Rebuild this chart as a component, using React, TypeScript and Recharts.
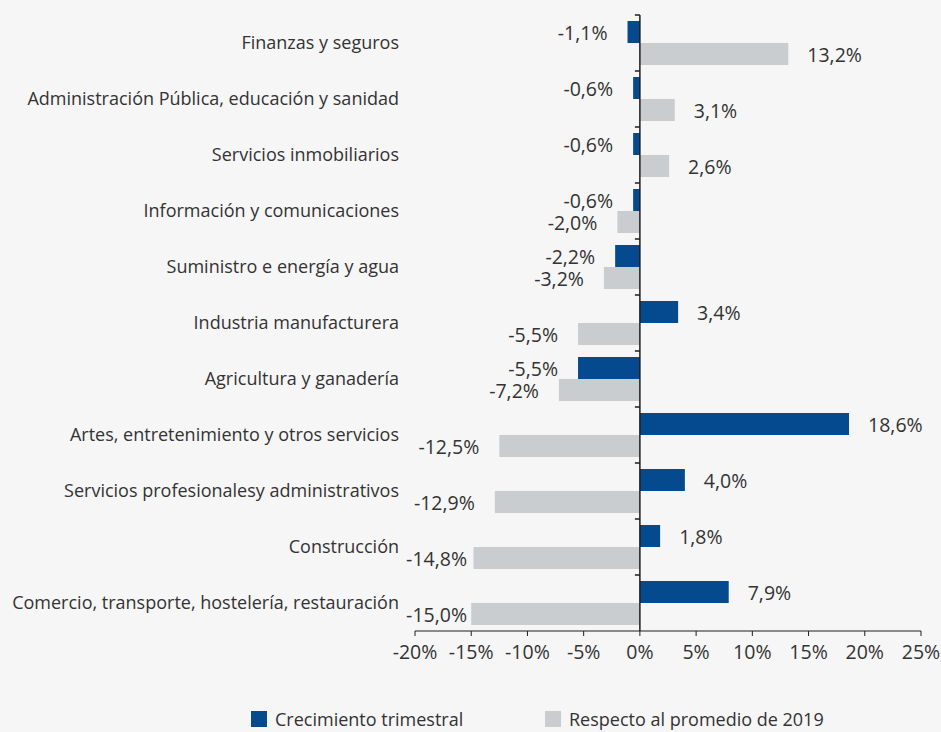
import { BarChart, Bar, XAxis, YAxis, LabelList, Legend, ReferenceLine } from "recharts"

const sectors = [
  "Finanzas y seguros",
  "Administración Pública, educación y sanidad",
  "Servicios inmobiliarios",
  "Información y comunicaciones",
  "Suministro e energía y agua",
  "Industria manufacturera",
  "Agricultura y ganadería",
  "Artes, entretenimiento y otros servicios",
  "Servicios profesionalesy administrativos",
  "Construcción",
  "Comercio, transporte, hostelería, restauración",
]

const quarterly = [-1.1, -0.6, -0.6, -0.6, -2.2, 3.4, -5.5, 18.6, 4.0, 1.8, 7.9]
const vs2019 = [13.2, 3.1, 2.6, -2.0, -3.2, -5.5, -7.2, -12.5, -12.9, -14.8, -15.0]
const xTicks = [-20, -15, -10, -5, 0, 5, 10, 15, 20, 25]

const seriesNames = ["Crecimiento trimestral", "Respecto al promedio de 2019"]

const data = sectors.map((name, i) => ({ name, quarterly: quarterly[i], vs2019: vs2019[i] }))

const BLUE = "#05498f"
const GREY = "#c9cdd0"
const TEXT = "#333333"
const AXIS = "#1e1e1e"
const FONT = 18
const NUM_FONT = 19.5
const Y_AXIS_WIDTH = 415

const fmt = (v: number) => v.toFixed(1).replace(".", ",") + "%"

function ValueLabel(props: any) {
  const { x, y, width, height, value } = props
  const left = Math.min(Number(x), Number(x) + Number(width))
  const right = Math.max(Number(x), Number(x) + Number(width))
  const cy = Number(y) + Number(height) / 2
  if (value >= 0) {
    return (
      <text x={right + 19} y={cy} dominantBaseline="central" fontSize={NUM_FONT} fill={TEXT}>
        {fmt(value)}
      </text>
    )
  }
  // keep long negative labels from running into the category names
  const tx = Math.max(left - 20, Y_AXIS_WIDTH + 52)
  return (
    <text x={tx} y={cy} textAnchor="end" dominantBaseline="central" fontSize={NUM_FONT} fill={TEXT}>
      {fmt(value)}
    </text>
  )
}

function ZeroAxis(props: any) {
  const { x1, y1, y2 } = props
  const top = Math.min(y1, y2)
  const bottom = Math.max(y1, y2)
  const step = (bottom - top) / sectors.length
  return (
    <g>
      <line x1={x1} x2={x1} y1={top} y2={bottom} stroke={AXIS} strokeWidth={1.5} />
      {sectors.map((s, i) => (
        <line key={s} x1={x1 - 5} x2={x1} y1={top + i * step} y2={top + i * step} stroke={AXIS} strokeWidth={1.5} />
      ))}
    </g>
  )
}

function LegendBox() {
  const colors = [BLUE, GREY]
  return (
    <div style={{ display: "flex", fontSize: FONT, lineHeight: "22px", color: TEXT }}>
      {seriesNames.map((n, i) => (
        <div key={n} style={{ display: "flex", alignItems: "center", width: i === 0 ? 294 : 320 }}>
          <span style={{ width: 16, height: 16, background: colors[i], marginRight: 8, display: "inline-block" }} />
          <span>{n}</span>
        </div>
      ))}
    </div>
  )
}

export default function App() {
  return (
    <div
      style={{
        position: "absolute",
        left: 0,
        top: 0,
        width: 941,
        height: 732,
        background: "#f6f6f6",
        fontFamily: "'Open Sans', sans-serif",
      }}
    >
      <BarChart
        width={941}
        height={732}
        data={data}
        layout="vertical"
        margin={{ top: 15, right: 20, left: 0, bottom: 61 }}
        barGap={0}
        barSize={22}
      >
        <XAxis
          type="number"
          domain={[-20, 25]}
          ticks={xTicks}
          tickFormatter={(v) => `${v}%`}
          height={40}
          stroke={AXIS}
          tickSize={5}
          tickMargin={9}
          tick={{ fill: TEXT, fontSize: NUM_FONT }}
        />
        <YAxis
          type="category"
          dataKey="name"
          width={Y_AXIS_WIDTH}
          axisLine={false}
          tickLine={false}
          tickSize={0}
          tickMargin={16}
          interval={0}
          tick={{ fill: TEXT, fontSize: FONT }}
        />
        <Bar dataKey="quarterly" name={seriesNames[0]} fill={BLUE} isAnimationActive={false}>
          <LabelList dataKey="quarterly" content={ValueLabel} />
        </Bar>
        <Bar dataKey="vs2019" name={seriesNames[1]} fill={GREY} isAnimationActive={false}>
          <LabelList dataKey="vs2019" content={ValueLabel} />
        </Bar>
        <ReferenceLine x={0} shape={ZeroAxis} />
        <Legend
          verticalAlign="middle"
          align="center"
          layout="horizontal"
          wrapperStyle={{ top: 708, left: 251, width: 640 }}
          content={LegendBox}
        />
      </BarChart>
    </div>
  )
}
